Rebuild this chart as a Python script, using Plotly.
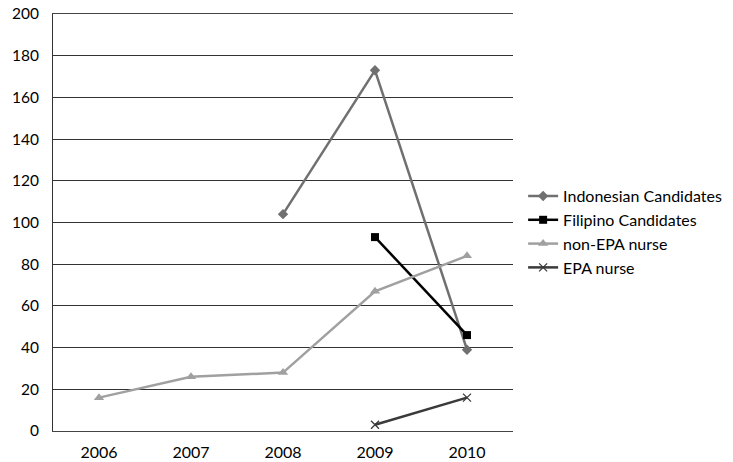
import plotly.graph_objects as go

years = ["2006", "2007", "2008", "2009", "2010"]
indonesian = [None, None, 104, 173, 39]
filipino = [None, None, None, 93, 46]
non_epa = [16, 26, 28, 67, 84]
epa_nurse = [None, None, None, 3, 16]
y_ticks = [0, 20, 40, 60, 80, 100, 120, 140, 160, 180, 200]

fig = go.Figure()
fig.add_trace(go.Scatter(x=years, y=indonesian, name="Indonesian Candidates", mode="lines+markers",
                         line=dict(color="#707070", width=2.5),
                         marker=dict(symbol="diamond", size=8, color="#707070")))
fig.add_trace(go.Scatter(x=years, y=filipino, name="Filipino Candidates", mode="lines+markers",
                         line=dict(color="#000000", width=2.5),
                         marker=dict(symbol="square", size=8, color="#000000")))
fig.add_trace(go.Scatter(x=years, y=non_epa, name="non-EPA nurse", mode="lines+markers",
                         line=dict(color="#A0A0A0", width=2.5),
                         marker=dict(symbol="triangle-up", size=9, color="#A0A0A0")))
fig.add_trace(go.Scatter(x=years, y=epa_nurse, name="EPA nurse", mode="lines+markers",
                         line=dict(color="#3A3A3A", width=2.5),
                         marker=dict(symbol="x-thin", size=8, color="#3A3A3A",
                                     line=dict(color="#3A3A3A", width=1.3))))

fig.update_layout(
    width=725, height=454,
    margin=dict(l=45, r=209, t=6, b=31, pad=0),
    paper_bgcolor="white", plot_bgcolor="white",
    font=dict(family="Lato, Open Sans, sans-serif", size=16, color="#000"),
    showlegend=True,
    legend=dict(x=1.022, y=0.477, xanchor="left", yanchor="middle",
                font=dict(size=16), tracegroupgap=0, itemwidth=30,
                bgcolor="rgba(0,0,0,0)"),
)
fig.update_xaxes(type="category", range=[-0.5, 4.5], showgrid=False, automargin=False,
                 showline=True, linecolor="#444", linewidth=1, mirror=True,
                 ticks="outside", ticklen=7, tickcolor="rgba(0,0,0,0)")
fig.update_yaxes(range=[0, 200], tickvals=y_ticks, showgrid=True, automargin=False,
                 gridcolor="#333", gridwidth=1, showline=True,
                 linecolor="#333", linewidth=1, zeroline=False,
                 ticklabeloverflow="allow", tickfont=dict(size=15.5),
                 ticks="outside", ticklen=10, tickcolor="rgba(0,0,0,0)")

fig.write_html("out.html", config={"displayModeBar": False})
